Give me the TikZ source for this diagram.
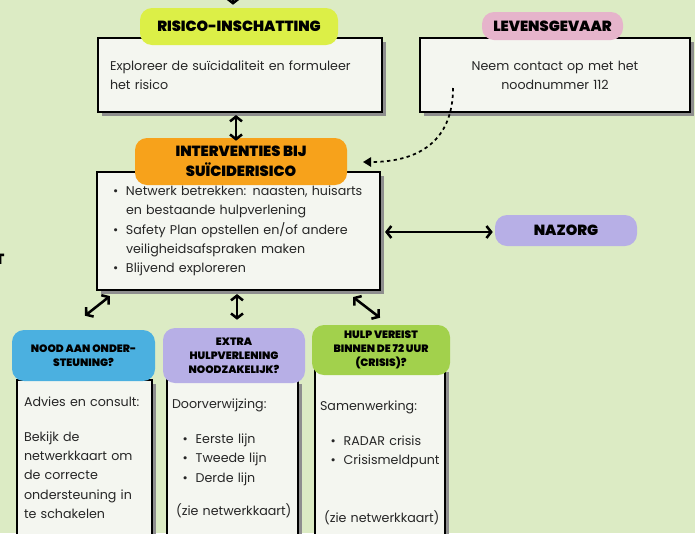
\documentclass[tikz,border=0pt]{standalone}
\usepackage{fontspec}
\setmainfont{Poppins}
\newfontfamily\heavyfont{Poppins Black}
\usetikzlibrary{arrows.meta,shadows,calc}

\definecolor{bggreen}{HTML}{DCEBC4}
\definecolor{cardwhite}{HTML}{F4F6F0}
\definecolor{shadowgray}{HTML}{8E8E8E}
\definecolor{tagyellow}{HTML}{DCEF47}
\definecolor{tagpink}{HTML}{E6B4CB}
\definecolor{tagorange}{HTML}{F7A21B}
\definecolor{taglilac}{HTML}{B7AFE6}
\definecolor{tagblue}{HTML}{4BB0E0}
\definecolor{taggreen}{HTML}{A2D14C}
\definecolor{inkgray}{HTML}{262626}

\tikzset{
  card/.style={draw=black, line width=1.6pt, fill=cardwhite, text=inkgray,
    drop shadow={shadow xshift=3pt, shadow yshift=-3pt, fill=shadowgray, opacity=1},
    font=\fontsize{9.5}{14.4}\selectfont, inner ysep=0pt},
  tag/.style={rounded corners=9pt, align=center, inner sep=0pt, text=black,
    font=\heavyfont\fontsize{11}{15}\selectfont},
  smalltag/.style={tag, font=\heavyfont\fontsize{8}{10.5}\selectfont},
  twoway/.style={{Straight Barb[length=3.5pt,width=9pt]}-{Straight Barb[length=3.5pt,width=9pt]}, line width=1.9pt},
  oneway/.style={-{Straight Barb[length=3.5pt,width=9pt]}, line width=1.9pt},
}
\newcommand{\itemdot}{\makebox[9.75pt][l]{\textbullet}}
\newcommand{\itemgap}{\hspace*{9.75pt}}

\begin{document}
\begin{tikzpicture}[x=0.75pt, y=-0.75pt]
\useasboundingbox (0,0) rectangle (695,533);
\fill[bggreen] (0,0) rectangle (695,533);
\clip (0,0) rectangle (695,533);

% BOXES
\node[card, text width=195pt, inner xsep=9pt, minimum height=55.5pt, align=left] (explore) at (240,75)
  {Exploreer de suïcidaliteit en formuleer\\het risico};
\node[card, text width=184.5pt, inner xsep=9pt, minimum height=55.5pt, align=center] (danger) at (555,75)
  {Neem contact op met het\\noodnummer 112};
\node[card, text width=188.25pt, inner xsep=12pt, minimum height=88.5pt, align=left] (interv) at (238.5,231)
  {\itemdot Netwerk betrekken: naasten, huisarts\\
   \itemgap en bestaande hulpverlening\\
   \itemdot Safety Plan opstellen en/of andere\\
   \itemgap veiligheidsafspraken maken\\
   \itemdot Blijvend exploreren};

\node[card, text width=90.75pt, inner xsep=5.25pt, minimum height=116.25pt, align=left] (support) at (84.5,457.5)
  {Advies en consult:\\[12pt]
   Bekijk de\\netwerkkaart om\\de correcte\\ondersteuning in\\te schakelen};
\node[card, text width=90.75pt, inner xsep=3.75pt, minimum height=117.75pt, align=left] (refer) at (232.5,458.5)
  {Doorverwijzing:\\[12pt]
   \hspace*{8pt}\itemdot Eerste lijn\\
   \hspace*{8pt}\itemdot Tweede lijn\\
   \hspace*{8pt}\itemdot Derde lijn\\[11pt]
   \hspace*{3pt}(zie netwerkkaart)};
\node[card, text width=90pt, inner xsep=3.75pt, minimum height=142.5pt, align=left] (crisis) at (380,463)
  {Samenwerking:\\[12pt]
   \hspace*{8pt}\itemdot RADAR crisis\\
   \hspace*{8pt}\itemdot Crisismeldpunt\\[29pt]
   \hspace*{3pt}(zie netwerkkaart)};

% LABELS
\node[tag, fill=tagyellow, minimum width=148.5pt, minimum height=27.75pt] (tagrisk) at (239,26.5) {RISICO-INSCHATTING};
\node[tag, fill=tagpink, minimum width=105.75pt, minimum height=21pt] (tagdanger) at (552.5,26) {LEVENSGEVAAR};
\node[tag, fill=tagorange, minimum width=159pt, minimum height=35.25pt] (taginterv) at (241,161.5) {INTERVENTIES BIJ\\SUÏCIDERISICO};
\node[tag, fill=taglilac, minimum width=106.5pt, minimum height=23.25pt] (tagcare) at (566,230.5) {NAZORG};
\node[smalltag, fill=tagblue, minimum width=107.25pt, minimum height=38.25pt] (tagsupport) at (83.5,355.5) {NOOD AAN ONDER-\\STEUNING?};
\node[smalltag, fill=taglilac, minimum width=106.5pt, minimum height=41.25pt] (tagrefer) at (234,355.5) {EXTRA\\HULPVERLENING\\NOODZAKELIJK?};
\node[smalltag, fill=taggreen, minimum width=103.5pt, minimum height=37.5pt] (tagcrisis) at (381,350) {HULP VEREIST\\BINNEN DE 72 UUR\\(CRISIS)?};
\node[smalltag, text=black, font=\heavyfont\fontsize{11}{11}\selectfont] (edgeT) at (0,259) {T};

% ARROWS
\coordinate (topin) at (233,-10);
\draw[oneway] (topin) -- ($(tagrisk.north)+(-6,-3)$);
\draw[twoway] ($(explore.south)+(-4,2)$) -- ($(taginterv.north)+(-5,3)$);
\draw[twoway] ($(interv.east)+(4,1)$) -- ($(tagcare.west)+(-2,1.5)$);
\draw[twoway] ($(interv.south west)+(14,5)$) -- ($(tagsupport.north)+(1.5,-14)$);
\draw[twoway] ($(interv.south)+(-1.5,3)$) -- ($(tagrefer.north)+(3,-8)$);
\draw[twoway] ($(interv.south east)+(-28,6)$) -- ($(tagcrisis.north)+(-1,-7)$);

\coordinate (dotstart) at (453,88);
\coordinate (dotend) at (363,162);
\draw[line width=1.3pt, dash pattern=on 2.5pt off 2.5pt, -{Triangle[length=6pt,width=7pt]}]
  (dotstart) .. controls (453,140) and (420,162) .. (dotend);
\end{tikzpicture}
\end{document}
